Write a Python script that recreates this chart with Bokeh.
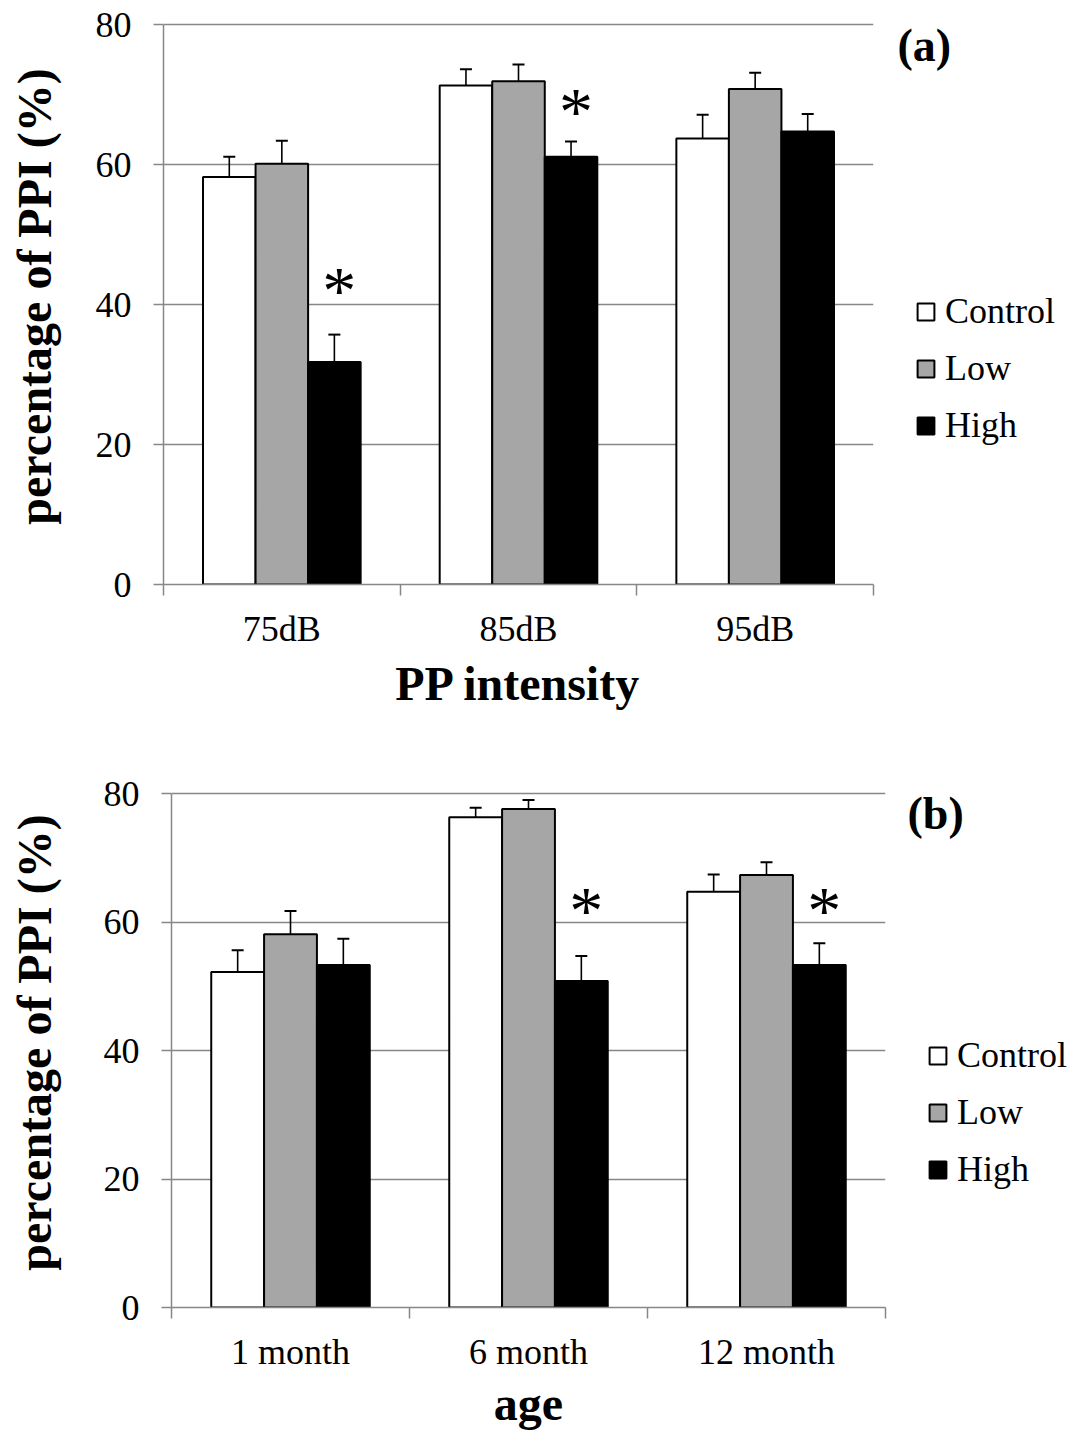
from bokeh.plotting import figure
from bokeh.models import (ColumnDataSource, Range1d, FixedTicker, Whisker, TeeHead,
                          Legend, LegendItem, Label)
from bokeh.layouts import column, row
from bokeh.core.properties import value
from bokeh.embed import file_html
from bokeh.resources import INLINE

# ---------------- data ----------------
groups = ["Control", "Low", "High"]
yticks = [0, 20, 40, 60, 80]

categories_a = ["75dB", "85dB", "95dB"]
control_a = [58.2, 71.3, 63.7]
low_a = [60.1, 71.9, 70.8]
high_a = [31.8, 61.1, 64.7]
control_a_err = [2.9, 2.3, 3.4]
low_a_err = [3.3, 2.4, 2.3]
high_a_err = [3.9, 2.2, 2.5]
star_a_cats = ["75dB", "85dB"]
star_a_vals = [43.4, 69.0]

categories_b = ["1 month", "6 month", "12 month"]
control_b = [52.2, 76.3, 64.7]
low_b = [58.1, 77.6, 67.3]
high_b = [53.3, 50.8, 53.3]
control_b_err = [3.4, 1.5, 2.7]
low_b_err = [3.6, 1.4, 2.0]
high_b_err = [4.1, 3.9, 3.4]
star_b_cats = ["6 month", "12 month"]
star_b_vals = [63.3, 63.3]

FONT = "Liberation Serif"
GRID = "#878787"
FILLS = ["white", "#a6a6a6", "black"]
BW = 0.222


def make_panel(cats, series, errs, star_cats, star_vals, xlabel,
               width, height, mb_top, mb_left, mb_bottom, y_end,
               tick_standoff, label_standoff, ylabel_standoff):
    n = len(cats)
    p = figure(width=width, height=height, output_backend="svg", toolbar_location=None,
               x_range=Range1d(0, n), y_range=Range1d(yticks[0], y_end),
               min_border_top=mb_top, min_border_left=mb_left,
               min_border_right=2, min_border_bottom=mb_bottom)
    p.outline_line_color = None
    p.background_fill_color = "white"
    p.border_fill_color = "white"

    sources = []
    for j, (g, vals, err) in enumerate(zip(groups, series, errs)):
        xs = [i + 0.5 + (j - 1) * BW for i in range(n)]
        src = ColumnDataSource(dict(x=xs, top=vals,
                                    upper=[v + e for v, e in zip(vals, err)]))
        sources.append(src)
        p.vbar(x="x", top="top", bottom=0, width=BW, source=src,
               fill_color=FILLS[j], line_color="black", line_width=2)
        p.add_layout(Whisker(source=src, base="x", upper="upper", lower="top",
                             lower_head=None,
                             upper_head=TeeHead(size=12, line_width=2, line_color="black"),
                             line_width=1.6, line_color="black"))

    # significance stars above High bars
    sx = [cats.index(c) + 0.5 + BW for c in star_cats]
    p.text(x=sx, y=star_vals, text=["*"] * len(sx), text_font=value(FONT),
           text_font_size="68px", text_align="center", text_baseline="middle",
           text_color="black", x_offset=5, y_offset=9)

    # axes
    xa = p.xaxis[0]
    xa.ticker = FixedTicker(ticks=[i + 0.5 for i in range(n)],
                            minor_ticks=list(range(n + 1)))
    xa.major_label_overrides = {i + 0.5: c for i, c in enumerate(cats)}
    xa.major_tick_line_color = None
    xa.major_tick_out = 11
    xa.major_tick_in = 0
    xa.minor_tick_out = 11
    xa.minor_tick_in = 0
    xa.minor_tick_line_color = GRID
    xa.minor_tick_line_width = 1.5
    xa.axis_line_color = GRID
    xa.axis_line_width = 1.5
    xa.major_label_text_font = FONT
    xa.major_label_text_font_size = "36px"
    xa.major_label_text_color = "black"
    xa.major_label_standoff = tick_standoff
    xa.axis_label = xlabel
    xa.axis_label_text_font = FONT
    xa.axis_label_text_font_style = "bold"
    xa.axis_label_text_font_size = "48px"
    xa.axis_label_text_color = "black"
    xa.axis_label_standoff = label_standoff

    ya = p.yaxis[0]
    ya.bounds = (yticks[0], yticks[-1])
    ya.ticker = FixedTicker(ticks=yticks)
    ya.major_tick_out = 10
    ya.major_tick_in = 0
    ya.minor_tick_line_color = None
    ya.major_tick_line_color = GRID
    ya.major_tick_line_width = 1.5
    ya.axis_line_color = GRID
    ya.axis_line_width = 1.5
    ya.major_label_text_font = FONT
    ya.major_label_text_font_size = "36px"
    ya.major_label_text_color = "black"
    ya.major_label_standoff = 22
    ya.axis_label = "percentage of PPI (%)"
    ya.axis_label_text_font = FONT
    ya.axis_label_text_font_style = "bold"
    ya.axis_label_text_font_size = "48px"
    ya.axis_label_text_color = "black"
    ya.axis_label_standoff = ylabel_standoff

    p.xgrid.visible = False
    p.ygrid.ticker = FixedTicker(ticks=yticks)
    p.ygrid.grid_line_color = GRID
    p.ygrid.grid_line_width = 1.5
    return p, sources


def make_side(tag, sources, width, height, mb_top, mb_bottom, legend_xy, tag_xy):
    # legend + panel tag area to the right of the plot
    s = figure(width=width, height=height, output_backend="svg", toolbar_location=None,
               x_axis_location=None, y_axis_location=None,
               x_range=Range1d(0, 1), y_range=Range1d(0, 1),
               min_border_left=0, min_border_right=0,
               min_border_top=mb_top, min_border_bottom=mb_bottom)
    s.outline_line_color = None
    s.grid.visible = False
    s.background_fill_color = "white"
    s.border_fill_color = "white"
    items = []
    for g, fc, src in zip(groups, FILLS, sources):
        r = s.vbar(x="x", top="top", bottom=0, width=BW, source=src, visible=False,
                   fill_color=fc, line_color="black", line_width=2)
        items.append(LegendItem(label=g, renderers=[r]))
    legend = Legend(items=items, location=legend_xy, orientation="vertical",
                    glyph_width=21, glyph_height=21, label_standoff=9,
                    label_text_font=FONT, label_text_font_size="36px",
                    label_text_color="black", label_height=44, spacing=13,
                    padding=0, margin=0, border_line_color=None,
                    background_fill_alpha=0, inactive_fill_alpha=0)
    s.add_layout(legend)
    s.add_layout(Label(x=tag_xy[0], y=tag_xy[1], x_units="screen", y_units="screen",
                       text=tag, text_font=FONT, text_font_style="bold",
                       text_font_size="46px", text_color="black",
                       text_baseline="alphabetic", text_align="left"))
    return s


pa, src_a = make_panel(categories_a, [control_a, low_a, high_a],
                       [control_a_err, low_a_err, high_a_err],
                       star_a_cats, star_a_vals, "PP intensity",
                       width=875, height=720, mb_top=8, mb_left=163, mb_bottom=136,
                       y_end=80 * 576 / 560,
                       tick_standoff=13, label_standoff=5, ylabel_standoff=32)
sa = make_side("(a)", src_a, width=200, height=720, mb_top=8, mb_bottom=136,
               legend_xy=(40, 137), tag_xy=(22, 539))

pb, src_b = make_panel(categories_b, [control_b, low_b, high_b],
                       [control_b_err, low_b_err, high_b_err],
                       star_b_cats, star_b_vals, "age",
                       width=887, height=715, mb_top=57, mb_left=171, mb_bottom=128,
                       y_end=80 * 530 / 514,
                       tick_standoff=13, label_standoff=2, ylabel_standoff=40)
sb = make_side("(b)", src_b, width=188, height=715, mb_top=57, mb_bottom=128,
               legend_xy=(40, 116), tag_xy=(20, 494))

layout = column(row(pa, sa, spacing=0), row(pb, sb, spacing=0), spacing=0)
open("out.html", "w").write(file_html(layout, INLINE))
